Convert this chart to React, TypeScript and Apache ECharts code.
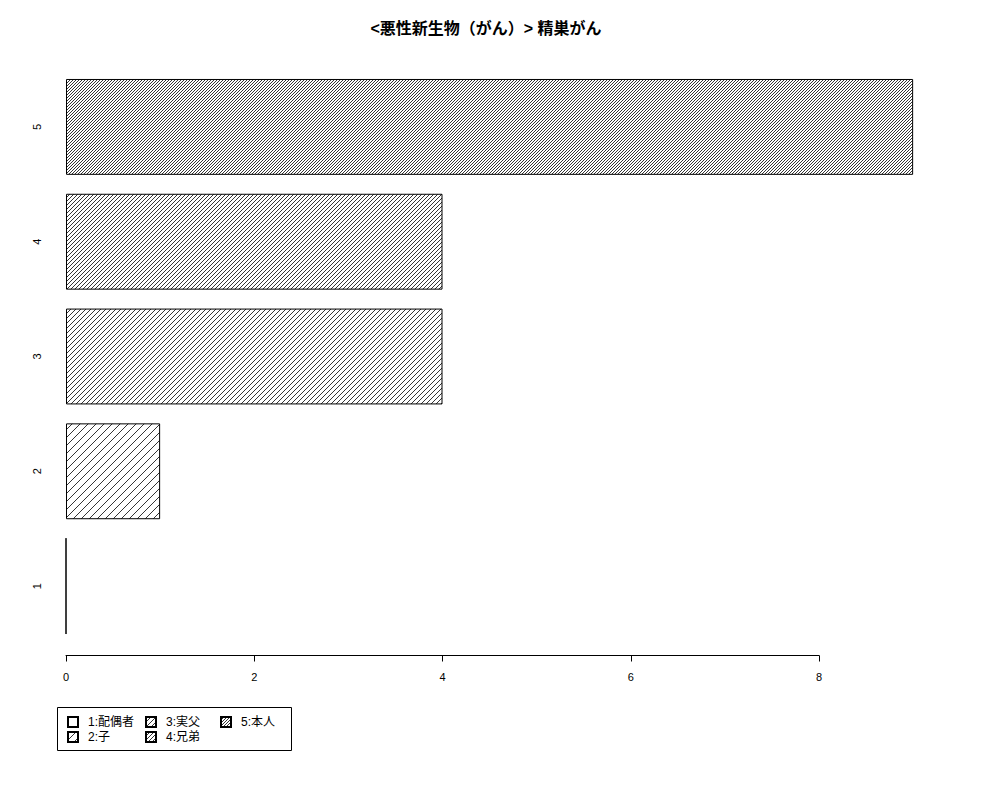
import React from 'react';
import * as echarts from 'echarts';

const categories = ['1', '2', '3', '4', '5'];
const counts = [0, 1, 4, 4, 9];
const legendNames = ['1:配偶者', '2:子', '3:実父', '4:兄弟', '5:本人'];
const titleText = '<悪性新生物（がん）> 精巣がん';

// spacing of the diagonal hatch lines per bar, in px along x (0 = empty)
const hatchSteps = [0, 8, 5, 4, 3];
// legend is laid out in columns of two, like R's legend(ncol = 3)
const legendColumns = [[0, 1], [2, 3], [4]];
const legendColumnLeft = [67, 145, 220];

const FONT = '"Liberation Sans", "Noto Sans CJK JP", sans-serif';

const makeHatch = (step: number): any => {
  if (!step) return '#ffffff';
  const canvas = document.createElement('canvas');
  canvas.width = step;
  canvas.height = step;
  const ctx = canvas.getContext('2d')!;
  ctx.fillStyle = '#ffffff';
  ctx.fillRect(0, 0, step, step);
  ctx.strokeStyle = '#111111';
  ctx.lineWidth = 0.85;
  ctx.beginPath();
  for (const k of [-step, 0, step]) {
    ctx.moveTo(k, step);
    ctx.lineTo(k + step, 0);
  }
  ctx.stroke();
  return { image: canvas, repeat: 'repeat', imageWidth: step, imageHeight: step };
};

const App = () => {
  const chartRef = React.useRef<HTMLDivElement>(null);

  React.useEffect(() => {
    document.body.style.margin = '0';
    if (!chartRef.current) return;
    const chart = echarts.init(chartRef.current, null, { renderer: 'svg' });

    const series = categories.map((_, i) => ({
      type: 'bar' as const,
      name: legendNames[i],
      stack: 'total',
      clip: false,
      barCategoryGap: '16.5%',
      data: counts.map((v, j) => (j === i ? v : '-')),
      itemStyle: {
        color: makeHatch(hatchSteps[i]),
        borderColor: '#000000',
        borderWidth: 1,
      },
      emphasis: { disabled: true },
    }));

    const legends = legendColumns.map((idx, c) => ({
      orient: 'vertical',
      left: legendColumnLeft[c],
      top: 716,
      padding: 0,
      itemGap: 3,
      itemWidth: 10,
      itemHeight: 10,
      icon: 'rect',
      selectedMode: false,
      textStyle: {
        fontFamily: FONT,
        fontSize: 12,
        color: '#000',
        padding: [0, 0, 0, 5],
      },
      data: idx.map((i) => legendNames[i]),
    }));

    chart.setOption({
      animation: false,
      backgroundColor: '#ffffff',
      title: {
        text: titleText,
        left: 486,
        top: 20,
        textAlign: 'center',
        padding: 0,
        textStyle: { fontFamily: FONT, fontSize: 16, fontWeight: 'bold', color: '#000' },
      },
      grid: {
        left: 66,
        width: 753,
        top: 69.5,
        height: 574,
        containLabel: false,
        outerBoundsMode: 'none',
      },
      xAxis: {
        type: 'value',
        min: 0,
        max: 8,
        interval: 2,
        offset: 12,
        splitLine: { show: false },
        axisLine: { show: true, lineStyle: { color: '#000', width: 1 } },
        axisTick: { show: true, length: 6, lineStyle: { color: '#000' } },
        axisLabel: { margin: 16, fontFamily: FONT, fontSize: 11, color: '#000' },
      },
      yAxis: {
        type: 'category',
        data: categories,
        axisLine: { show: false },
        axisTick: { show: false },
        splitLine: { show: false },
        axisLabel: { rotate: 90, margin: 24, fontFamily: FONT, fontSize: 11, color: '#000' },
      },
      legend: legends,
      graphic: [
        {
          type: 'rect',
          shape: { x: 57.5, y: 707.5, width: 234, height: 43 },
          style: { fill: 'none', stroke: '#000', lineWidth: 1 },
          silent: true,
        },
      ],
      tooltip: { show: false },
      series,
    });

    return () => {
      chart.dispose();
    };
  }, []);

  return (
    <div
      ref={chartRef}
      style={{ width: 1000, height: 800, background: '#fff' }}
    />
  );
};

export default App;
